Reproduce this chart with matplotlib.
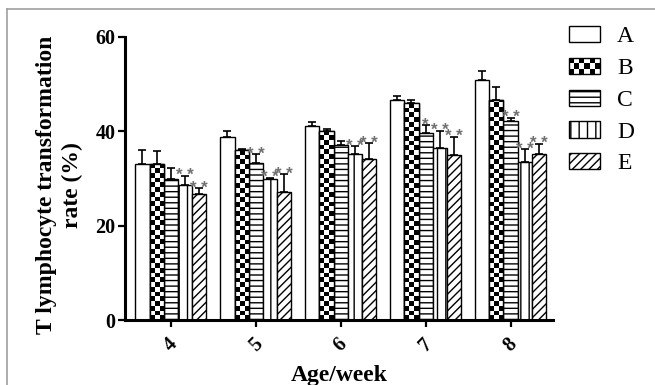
import matplotlib
matplotlib.use("Agg")
import matplotlib.pyplot as plt
import numpy as np
from matplotlib.patches import Patch, Rectangle
from matplotlib.legend_handler import HandlerBase
from matplotlib.lines import Line2D

plt.rcParams['font.family'] = ['Liberation Serif', 'DejaVu Sans']
plt.rcParams['hatch.linewidth'] = 1.0

weeks = ['4', '5', '6', '7', '8']
series = ['A', 'B', 'C', 'D', 'E']
val_A = [33.0, 38.8, 41.1, 46.6, 50.9]
val_B = [33.1, 36.0, 40.1, 46.0, 46.7]
val_C = [30.0, 33.3, 37.0, 39.7, 42.1]
val_D = [28.7, 29.8, 35.1, 36.5, 33.6]
val_E = [26.8, 27.2, 34.2, 34.9, 35.3]
err_A = [3.0, 1.3, 0.9, 0.9, 1.9]
err_B = [2.8, 0.2, 0.5, 0.6, 2.7]
err_C = [2.3, 1.9, 0.9, 1.7, 0.8]
err_D = [1.9, 0.4, 1.7, 3.6, 2.6]
err_E = [1.1, 3.7, 3.3, 4.0, 2.1]
star_A = ['', '', '', '', '']
star_B = ['', '', '', '', '']
star_C = ['', '* *', '', '*', '* *']
star_D = ['* *', '* *', '* *', '* *', '* *']
star_E = ['* *', '* *', '* *', '* *', '* *']

values = [val_A, val_B, val_C, val_D, val_E]
errors = [err_A, err_B, err_C, err_D, err_E]
stars = [star_A, star_B, star_C, star_D, star_E]
hatches = ['', None, '---', '||', '////']


class HandlerChecker(HandlerBase):
    def create_artists(self, legend, orig_handle, xdescent, ydescent,
                       width, height, fontsize, trans):
        arts = []
        nx, ny = 6, 3
        sw, sh = width / nx, height / ny
        for i in range(nx):
            for j in range(ny):
                if (i + j) % 2 == 0:
                    arts.append(Rectangle((-xdescent + i * sw, -ydescent + j * sh), sw, sh,
                                          facecolor='black', edgecolor='none', transform=trans))
        arts.append(Rectangle((-xdescent, -ydescent), width, height, facecolor='none',
                              edgecolor='black', lw=1.0, transform=trans))
        return arts


fig = plt.figure(figsize=(6.55, 3.85), dpi=100)
ax = fig.add_axes([125 / 655, 1 - 320 / 385, 428 / 655, 283 / 385])

x = np.arange(len(weeks))
w = 0.167
for k in range(5):
    xs = x + (k - 2) * w
    bars = ax.bar(xs, values[k], w, color='white', edgecolor='black', lw=1.0,
                  hatch=hatches[k] if hatches[k] else None, zorder=2)
    if k == 1:
        for b in bars:
            h = b.get_height()
            nrow = int(np.ceil(h))
            board = (np.indices((nrow, 3)).sum(axis=0) % 2).astype(float)
            im = ax.imshow(board, cmap='gray', extent=(b.get_x(), b.get_x() + w, 0, nrow),
                           origin='lower', aspect='auto', interpolation='nearest', zorder=2.5)
            im.set_clip_path(b)
            ax.add_patch(Rectangle((b.get_x(), 0), w, h, facecolor='none',
                                   edgecolor='black', lw=1.0, zorder=2.6))
    ax.errorbar(xs, values[k], yerr=[np.zeros(5), errors[k]], fmt='none', ecolor='black',
                elinewidth=1.2, capsize=2.8, capthick=1.2, zorder=3)
    for g in range(5):
        if stars[k][g]:
            ax.annotate(stars[k][g], (xs[g], values[k][g] + errors[k][g]),
                        xytext=(0, -3.3), textcoords='offset points', ha='center',
                        va='baseline', fontsize=12, fontweight='bold', color='#707070',
                        family='Liberation Sans')

ax.set_xlim(-0.54, 4.5)
ax.set_ylim(0, 60)
ax.set_yticks([0, 20, 40, 60])
ax.set_xticks(x)
ax.set_xticklabels(weeks, rotation=45, ha='center', fontsize=14.5, fontweight='bold')
for t in ax.get_yticklabels():
    t.set_fontsize(14.5)
    t.set_fontweight('bold')
ax.spines['top'].set_visible(False)
ax.spines['right'].set_visible(False)
ax.spines['left'].set_linewidth(2.2)
ax.spines['bottom'].set_linewidth(2.2)
ax.tick_params(direction='out', length=5, width=1.6, pad=2)
ax.tick_params(axis='x', pad=5)

fig.text(60 / 655, 1 - 185 / 385, 'T lymphocyte transformation\nrate (%)', rotation=90,
         ha='center', va='center', multialignment='center', fontsize=17, fontweight='bold',
         linespacing=1.3)
fig.text(339 / 655, 1 - 376 / 385, 'Age/week', ha='center', va='center', fontsize=17,
         fontweight='bold')

handles = []
hmap = {}
for k in range(5):
    p = Patch(facecolor='white', edgecolor='black', lw=1.0,
              hatch=hatches[k] if hatches[k] else None)
    if k == 1:
        hmap[p] = HandlerChecker()
    handles.append(p)
fig.legend(handles, series, loc='upper left', bbox_to_anchor=(569 / 655, 1 - 26 / 385),
           frameon=False, fontsize=17, handlelength=1.31, handleheight=0.68,
           handletextpad=0.72, labelspacing=0.44, borderpad=0, borderaxespad=0,
           handler_map=hmap)

fig.add_artist(Line2D([7 / 655, 7 / 655], [0, 1 - 9 / 385], color='#a0a0a0', lw=1.2))
fig.add_artist(Line2D([7 / 655, 1], [1 - 9 / 385, 1 - 9 / 385], color='#a0a0a0', lw=1.2))

fig.savefig('out.png', dpi=100)
